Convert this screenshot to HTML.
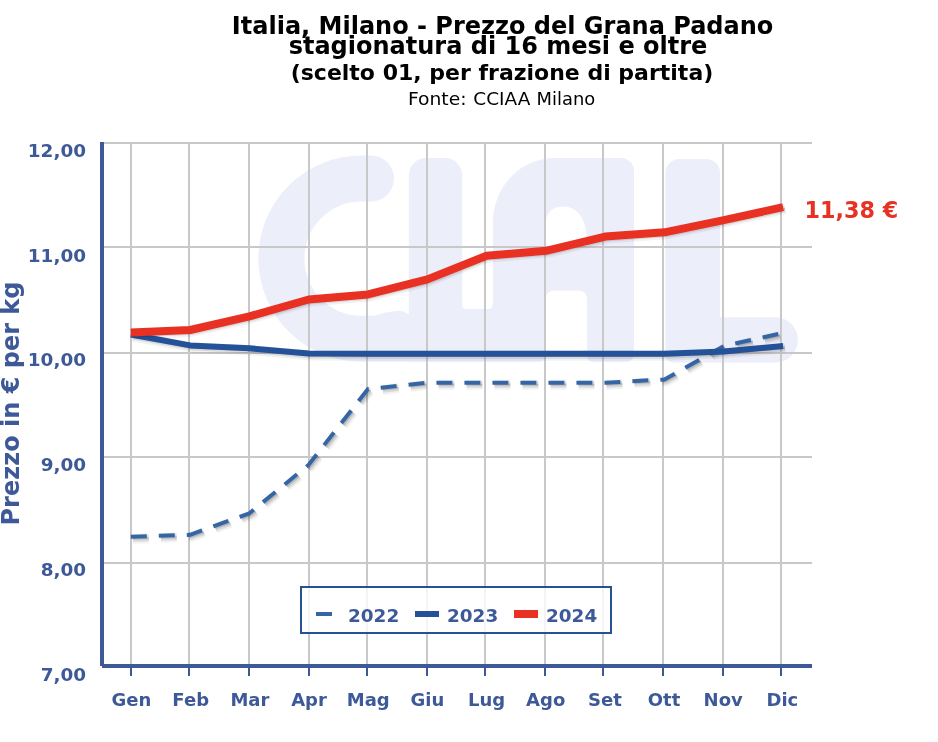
<!DOCTYPE html>
<html lang="it">
<head>
<meta charset="utf-8">
<title>Italia, Milano - Prezzo del Grana Padano</title>
<style>
html,body{margin:0;padding:0;background:#fff;}
body{width:938px;height:742px;overflow:hidden;}
svg{display:block;}
text{font-family:"DejaVu Sans",Verdana,"Liberation Sans",sans-serif;}
.b{font-weight:bold;}
.ax{fill:#3e5998;font-weight:bold;}
.s18{font-size:18px;}
.s184{font-size:18.4px;}
</style>
</head>
<body>
<svg width="938" height="742" viewBox="0 0 938 742">
<rect width="938" height="742" fill="#fff"/>

<!-- watermark -->
<g id="wm" fill="#eceefa" stroke="none" role="img" aria-label="CIAL">
<title>CIAL</title>
<path d="M371,178.4 L361.6,178.4 A80.2,80.2 0 0 0 361.6,338.8 L470,338.8" fill="none" stroke="#eceefa" stroke-width="46" stroke-linecap="round"/>
<path d="M408.8,362 V175.5 a17.5,17.5 0 0 1 17.5,-17.5 h18.4 a17.5,17.5 0 0 1 17.5,17.5 V362 Z"/>
<rect x="440" y="309" width="70" height="53"/>
<path d="M460,303 H462.2 V305 a4,4 0 0 0 4,4 H468 V311 H460 Z"/>
<path d="M495,303 H492.5 V305 a4,4 0 0 1 -4,4 H486 V311 H495 Z"/>
<path fill-rule="evenodd" d="M493,362 V222 a62,64 0 0 1 62,-64 H621 a13,13 0 0 1 13,13 V354 a8,8 0 0 1 -8,8 H593 a6,6 0 0 1 -6,-6 V298.5 a8,8 0 0 0 -8,-8 H553.7 a8,8 0 0 0 -8,8 V356 a6,6 0 0 1 -6,6 Z M545.7,247 V224 C545.7,212 553,206.4 563.5,206.4 C576.5,206.4 586.7,218 586.7,240 V247 Z"/>
<path d="M368,318 Q388,310 402,311 L409.5,314.5 V322 H368 Z"/>
<path d="M665.5,173 a14,14 0 0 1 14,-14 h26.5 a14,14 0 0 1 14,14 V317.3 H775.4 a22.6,22.6 0 0 1 0,45.2 H673.5 a8,8 0 0 1 -8,-8 Z"/>
<text class="b" x="415" y="352" font-size="36" fill="#eceefa">CIAL</text>
</g>

<!-- grid -->
<g fill="#c8c8c8" shape-rendering="crispEdges">
<rect x="104" y="142" width="708" height="2"/>
<rect x="104" y="246" width="708" height="2"/>
<rect x="104" y="352" width="708" height="2"/>
<rect x="104" y="456" width="708" height="2"/>
<rect x="104" y="562" width="708" height="2"/>
<rect x="130" y="142" width="2" height="522"/>
<rect x="188" y="142" width="2" height="522"/>
<rect x="248" y="142" width="2" height="522"/>
<rect x="308" y="142" width="2" height="522"/>
<rect x="366" y="142" width="2" height="522"/>
<rect x="426" y="142" width="2" height="522"/>
<rect x="484" y="142" width="2" height="522"/>
<rect x="544" y="142" width="2" height="522"/>
<rect x="602" y="142" width="2" height="522"/>
<rect x="662" y="142" width="2" height="522"/>
<rect x="722" y="142" width="2" height="522"/>
<rect x="780" y="142" width="2" height="522"/>
</g>

<!-- axes -->
<g fill="#3e5998" shape-rendering="crispEdges">
<rect x="100" y="142" width="4" height="524"/>
<rect x="102" y="664" width="710" height="4"/>
<rect x="130" y="668" width="2" height="8"/>
<rect x="188" y="668" width="2" height="8"/>
<rect x="248" y="668" width="2" height="8"/>
<rect x="308" y="668" width="2" height="8"/>
<rect x="366" y="668" width="2" height="8"/>
<rect x="426" y="668" width="2" height="8"/>
<rect x="484" y="668" width="2" height="8"/>
<rect x="544" y="668" width="2" height="8"/>
<rect x="602" y="668" width="2" height="8"/>
<rect x="662" y="668" width="2" height="8"/>
<rect x="722" y="668" width="2" height="8"/>
<rect x="780" y="668" width="2" height="8"/>
</g>

<!-- series -->
<g fill="none" stroke-linejoin="round" stroke-dasharray="16 12">
<g stroke="#000" transform="translate(2,2)"><polyline stroke-width="10" stroke-opacity="0.05" points="130.8,536.7 190.1,534.8 249.4,513.3 308.7,464.8 368.0,389 427.3,382.7 486.6,382.7 545.9,382.7 605.2,382.7 664.5,379.5 723.8,346 783.1,333"/><polyline stroke-width="6" stroke-opacity="0.1" points="130.8,536.7 190.1,534.8 249.4,513.3 308.7,464.8 368.0,389 427.3,382.7 486.6,382.7 545.9,382.7 605.2,382.7 664.5,379.5 723.8,346 783.1,333"/><polyline stroke-width="2" stroke-opacity="0.15" points="130.8,536.7 190.1,534.8 249.4,513.3 308.7,464.8 368.0,389 427.3,382.7 486.6,382.7 545.9,382.7 605.2,382.7 664.5,379.5 723.8,346 783.1,333"/></g>
<polyline stroke="#3465a4" stroke-width="4" points="130.8,536.7 190.1,534.8 249.4,513.3 308.7,464.8 368.0,389 427.3,382.7 486.6,382.7 545.9,382.7 605.2,382.7 664.5,379.5 723.8,346 783.1,333"/>
</g>
<g fill="none" stroke-linejoin="round">
<g stroke="#000" transform="translate(2,2)"><polyline stroke-width="10" stroke-opacity="0.05" points="130.8,334.5 190.1,345.4 249.4,348.3 308.7,353.5 368.0,353.7 427.3,353.7 486.6,353.7 545.9,353.7 605.2,353.7 664.5,353.7 723.8,351.5 783.1,346"/><polyline stroke-width="6" stroke-opacity="0.1" points="130.8,334.5 190.1,345.4 249.4,348.3 308.7,353.5 368.0,353.7 427.3,353.7 486.6,353.7 545.9,353.7 605.2,353.7 664.5,353.7 723.8,351.5 783.1,346"/><polyline stroke-width="2" stroke-opacity="0.15" points="130.8,334.5 190.1,345.4 249.4,348.3 308.7,353.5 368.0,353.7 427.3,353.7 486.6,353.7 545.9,353.7 605.2,353.7 664.5,353.7 723.8,351.5 783.1,346"/></g>
<polyline stroke="#245299" stroke-width="6" points="130.8,334.5 190.1,345.4 249.4,348.3 308.7,353.5 368.0,353.7 427.3,353.7 486.6,353.7 545.9,353.7 605.2,353.7 664.5,353.7 723.8,351.5 783.1,346"/>
</g>
<g fill="none" stroke-linejoin="round">
<g stroke="#000" transform="translate(2,2)"><polyline stroke-width="10" stroke-opacity="0.05" points="130.8,332.6 190.1,330 249.4,316.4 308.7,299.5 368.0,294.4 427.3,279.4 486.6,255.7 545.9,250.8 605.2,236.6 664.5,232.3 723.8,220.2 783.1,207.1"/><polyline stroke-width="6" stroke-opacity="0.1" points="130.8,332.6 190.1,330 249.4,316.4 308.7,299.5 368.0,294.4 427.3,279.4 486.6,255.7 545.9,250.8 605.2,236.6 664.5,232.3 723.8,220.2 783.1,207.1"/><polyline stroke-width="2" stroke-opacity="0.15" points="130.8,332.6 190.1,330 249.4,316.4 308.7,299.5 368.0,294.4 427.3,279.4 486.6,255.7 545.9,250.8 605.2,236.6 664.5,232.3 723.8,220.2 783.1,207.1"/></g>
<polyline stroke="#e83123" stroke-width="8" points="130.8,332.6 190.1,330 249.4,316.4 308.7,299.5 368.0,294.4 427.3,279.4 486.6,255.7 545.9,250.8 605.2,236.6 664.5,232.3 723.8,220.2 783.1,207.1"/>
</g>

<!-- legend -->
<rect x="301" y="587" width="310" height="46" fill="#fff" fill-opacity="0.8" stroke="#245299" stroke-width="2" shape-rendering="crispEdges"/>
<line x1="316" y1="614" x2="332" y2="614" stroke="#3465a4" stroke-width="4"/>
<line x1="415" y1="614" x2="439" y2="614" stroke="#245299" stroke-width="6"/>
<line x1="514" y1="614" x2="538" y2="614" stroke="#e83123" stroke-width="8"/>
<text class="ax s184" x="348" y="622">2022</text>
<text class="ax s184" x="447" y="622">2023</text>
<text class="ax s184" x="546" y="622">2024</text>

<!-- title -->
<text class="b" x="502.6" y="33.7" font-size="24" text-anchor="middle" fill="#000">Italia, Milano - Prezzo del Grana Padano</text>
<text class="b" x="498" y="54" font-size="24" text-anchor="middle" fill="#000">stagionatura di 16 mesi e oltre</text>
<text class="b" x="502" y="80" font-size="22" text-anchor="middle" fill="#000">(scelto 01, per frazione di partita)</text>
<text y="105.4" font-size="17.6" fill="#000"><tspan x="407.9" textLength="58.6" lengthAdjust="spacingAndGlyphs">Fonte:</tspan> <tspan x="473.3" textLength="57" lengthAdjust="spacingAndGlyphs">CCIAA</tspan> <tspan x="536.6" textLength="58.6" lengthAdjust="spacingAndGlyphs">Milano</tspan></text>

<!-- y labels -->
<g class="ax s184" text-anchor="end">
<text x="86" y="157">12,00</text>
<text x="86" y="261.8">11,00</text>
<text x="86" y="366.3">10,00</text>
<text x="86" y="471.2">9,00</text>
<text x="86" y="576">8,00</text>
<text x="86" y="681">7,00</text>
</g>
<text class="b" transform="translate(18.6,403.5) rotate(-90)" font-size="24" text-anchor="middle" fill="#3e5998">Prezzo in € per kg</text>

<!-- x labels -->
<g class="ax s18" text-anchor="middle">
<text x="131.5" y="706">Gen</text>
<text x="190.7" y="706">Feb</text>
<text x="249.9" y="706">Mar</text>
<text x="309" y="706">Apr</text>
<text x="368.2" y="706">Mag</text>
<text x="427.4" y="706">Giu</text>
<text x="486.6" y="706">Lug</text>
<text x="545.7" y="706">Ago</text>
<text x="604.9" y="706">Set</text>
<text x="664" y="706">Ott</text>
<text x="723.2" y="706">Nov</text>
<text x="782.4" y="706">Dic</text>
</g>

<text class="b" x="804.5" y="218" font-size="22.3" fill="#e83123">11,38 €</text>
</svg>
</body>
</html>
